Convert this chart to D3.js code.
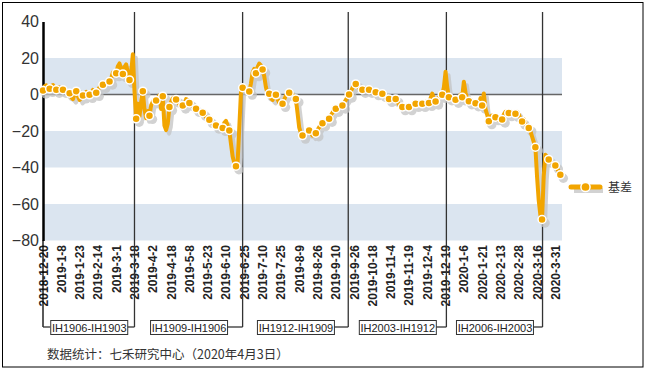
<!DOCTYPE html>
<html>
<head>
<meta charset="utf-8">
<script src="https://cdn.jsdelivr.net/npm/d3@7/dist/d3.min.js"></script>
<style>
  body { margin: 0; background: #fff; }
  svg text { font-family: "Liberation Sans", Arial, sans-serif; }
</style>
</head>
<body>
<div id="chart"></div>
<script>
// Tick labels for the date axis (every 11 trading days)
let dateLabels = ["2018-12-20", "2019-1-8", "2019-1-23", "2019-2-14", "2019-3-1", "2019-3-18",
    "2019-4-2", "2019-4-18", "2019-5-8", "2019-5-23", "2019-6-10", "2019-6-25", "2019-7-10",
    "2019-7-25", "2019-8-9", "2019-8-26", "2019-9-10", "2019-9-26", "2019-10-18", "2019-11-4",
    "2019-11-19", "2019-12-4", "2019-12-19", "2020-1-6", "2020-1-21", "2020-2-13", "2020-2-28",
    "2020-3-16", "2020-3-31"];
let labelStep = 11;

// Daily basis values (one per trading day)
let basis = [
    2.2, 4.5, 5.0, 4.0,   3.1, 4.8, 5.2, 3.5,   2.6, 4.0, 3.8, 3.0,   2.6, 2.0, 1.5, 1.0,
    0.7, -1.5, -2.5, 0.5,   1.8, -1.0, -3.0, -2.0,   -0.5, 0.5, 1.5, 0.5,   -0.2, 1.0, 2.5, 1.5,
    0.9, 2.5, 4.0, 4.5,   5.3, 6.0, 7.0, 6.5,   7.1, 9.0, 12.0, 11.5,   11.7, 15.5, 17.0, 14.0,
    11.3, 15.0, 16.5, 12.0,   8.0, 12.0, 22.0, 2.0,   -13.3, -5.0, -12.0, -4.0,   1.8, -8.0, -13.0, -9.0,
    -11.7, -6.0, -4.0, -2.5,   -3.3, -1.5, -0.5, -8.0,   -0.9, -17.0, -19.5, -16.0,   -6.9, -4.0, -2.0, -1.5,
    -2.7, -4.0, -5.5, -5.5,   -6.0, -5.0, -2.5, -3.0,   -4.6, -5.5, -6.5, -7.0,   -7.8, -8.5, -9.0, -9.5,
    -10.0, -11.0, -12.5, -13.0,   -13.9, -15.0, -16.0, -16.5,   -17.0, -16.5, -17.5, -17.5,   -18.3, -15.5, -14.5, -17.0,
    -19.7, -27.0, -34.0, -37.5,   -39.3, -37.0, -18.0, 1.0,   3.7, 4.5, 3.0, 2.0,   1.6, 6.0, 12.0, 14.0,
    11.7, 15.0, 17.0, 16.0,   13.7, 10.0, 4.0, 0.5,   0.4, -2.0, -3.0, -1.0,   -0.2, -2.5, -4.5, -5.5,
    -5.1, -3.0, -0.5, 0.5,   0.9, 1.0, 0.0, -1.5,   -2.4, -10.0, -18.0, -21.0,   -22.5, -22.0, -21.0, -20.0,
    -19.7, -21.0, -22.5, -22.0,   -21.2, -19.5, -18.0, -16.5,   -15.7, -15.0, -14.5, -14.0,   -13.3, -11.5, -10.0, -8.5,
    -7.8, -7.0, -6.5, -6.0,   -6.0, -4.5, -3.0, -1.5,   0.0, 1.5, 3.5, 5.0,   5.8, 5.0, 3.5, 3.0,
    2.6, 3.0, 3.5, 3.0,   2.6, 2.0, 1.5, 1.5,   1.3, 1.0, 0.5, 0.5,   0.4, -0.5, -1.5, -2.0,
    -2.4, -2.0, -2.5, -2.0,   -2.4, -4.0, -5.5, -6.5,   -6.9, -6.5, -7.0, -7.0,   -6.9, -6.0, -5.5, -5.5,
    -5.1, -4.5, -5.0, -5.0,   -5.1, -4.5, -4.0, -4.5,   -4.6, -2.0, 0.5, -2.5,   -3.8, -2.5, -1.5, -0.5,
    -0.2, 4.0, 12.5, 4.0,   -1.5, -1.0, -1.5, -2.0,   -2.9, -2.0, -1.5, 0.0,   -1.5, 7.0, 1.0, -2.5,
    -3.7, -3.0, -3.5, -4.0,   -4.8, -5.0, -5.5, -2.0,   -6.0, 0.5, -8.0, -11.0,   -14.6, -12.0, -11.5, -12.0,
    -12.4, -13.5, -14.0, -13.0,   -13.7, -11.0, -9.5, -10.0,   -10.2, -9.5, -10.0, -10.5,   -10.6, -9.5, -11.0, -13.0,
    -14.8, -13.5, -16.0, -17.5,   -18.3, -20.0, -23.0, -26.0,   -28.9, -45.0, -58.0, -66.0,   -68.5, -45.0, -33.0, -34.0,
    -35.6, -36.5, -37.5, -38.0,   -38.9, -40.5, -42.0, -44.0
];

// Contract roll points (day index) and the spread names between them
let rollIndex = [55, 120, 183.5, 242.5, 300.3];
let spreadNames = ["IH1906-IH1903", "IH1909-IH1906", "IH1912-IH1909", "IH2003-IH1912", "IH2006-IH2003"];

let yTicks = [40, 20, 0, -20, -40, -60, -80];
let seriesName = "基差";
let sourceNote = "数据统计：七禾研究中心（2020年4月3日）";

// Layout
let svgWidth = 646, svgHeight = 370;
let plot = { left: 43, right: 562, top: 21.5, bottom: 240.5 };
let orange = "#f2a500";
let band = "#dbe5f0";

let svg = d3.select("#chart").append("svg")
    .attr("width", svgWidth)
    .attr("height", svgHeight);

// outer frame
svg.append("rect")
    .attr("x", 2.5).attr("y", 2.5)
    .attr("width", 640.5).attr("height", 364.5)
    .attr("fill", "none").attr("stroke", "#000").attr("stroke-width", 1);

let xScale = d3.scaleLinear().domain([0, 312]).range([plot.left, plot.right]);
let yScale = d3.scaleLinear().domain([-80, 40]).range([plot.bottom, plot.top]);

// alternating bands
let bandPairs = [[20, 0], [-20, -40], [-60, -80]];
svg.append("g").selectAll("rect")
    .data(bandPairs)
    .enter().append("rect")
    .attr("x", plot.left)
    .attr("y", d => yScale(d[0]))
    .attr("width", plot.right - plot.left)
    .attr("height", d => yScale(d[1]) - yScale(d[0]))
    .attr("fill", band);

// zero line
svg.append("line")
    .attr("x1", plot.left).attr("x2", plot.right)
    .attr("y1", yScale(0)).attr("y2", yScale(0))
    .attr("stroke", "#666").attr("stroke-width", 1.5);

// y axis
let yAxis = d3.axisLeft(yScale).tickValues(yTicks).tickSize(0).tickPadding(4);
let yG = svg.append("g")
    .attr("transform", `translate(${plot.left}, 0)`)
    .call(yAxis);
yG.select(".domain").attr("stroke", "#000").attr("stroke-width", 2.5);
yG.selectAll("text").attr("font-size", 16).attr("fill", "#333")
    .attr("font-family", "Liberation Sans, Arial, sans-serif");

// x labels (rotated)
let xG = svg.append("g");
xG.selectAll("text")
    .data(dateLabels)
    .enter().append("text")
    .attr("transform", (d, i) => `translate(${xScale(i * labelStep) + 4.5}, 245) rotate(-90)`)
    .attr("text-anchor", "end")
    .attr("font-size", 12)
    .attr("font-weight", "bold")
    .attr("fill", "#222")
    .text(d => d);

// roll dividers + bracket boxes
let boxY = 320, boxH = 14, boxW = 77, linkY = 327;
let rollX = rollIndex.map(d => xScale(d));
let divG = svg.append("g");
divG.selectAll("line.div")
    .data(rollX)
    .enter().append("line")
    .attr("class", "div")
    .attr("x1", d => d).attr("x2", d => d)
    .attr("y1", 12).attr("y2", linkY)
    .attr("stroke", "#333").attr("stroke-width", 1.3);
// left bracket leg from the axis
divG.append("line")
    .attr("x1", plot.left).attr("x2", plot.left)
    .attr("y1", plot.bottom).attr("y2", linkY)
    .attr("stroke", "#000").attr("stroke-width", 1.3);

let boxes = spreadNames.map((name, i) => {
    let prev = i === 0 ? plot.left : rollX[i - 1];
    let cx = (prev + rollX[i]) / 2;
    return { name: name, cx: cx, right: rollX[i] };
});
divG.selectAll("line.link")
    .data(boxes)
    .enter().append("line")
    .attr("class", "link")
    .attr("x1", d => d.cx + boxW / 2).attr("x2", d => d.right)
    .attr("y1", linkY).attr("y2", linkY)
    .attr("stroke", "#333").attr("stroke-width", 1.3);
divG.append("line")
    .attr("x1", plot.left).attr("x2", boxes[0].cx - boxW / 2)
    .attr("y1", linkY).attr("y2", linkY)
    .attr("stroke", "#333").attr("stroke-width", 1.3);
divG.selectAll("rect")
    .data(boxes)
    .enter().append("rect")
    .attr("x", d => d.cx - boxW / 2 + 0.5).attr("y", boxY + 0.5)
    .attr("width", boxW).attr("height", boxH)
    .attr("fill", "#fff").attr("stroke", "#333").attr("stroke-width", 1);
divG.selectAll("text")
    .data(boxes)
    .enter().append("text")
    .attr("x", d => d.cx + 0.5).attr("y", boxY + 11.5)
    .attr("text-anchor", "middle")
    .attr("font-size", 11)
    .attr("fill", "#222")
    .text(d => d.name);

// series
let lastIdx = basis.length - 1;
let markerData = basis.map((v, i) => ({ i: i, v: v }))
    .filter(d => d.i % 4 === 0 || d.i === lastIdx);
let line = d3.line().x((d, i) => xScale(i)).y(d => yScale(d));

let shadow = svg.append("g").attr("transform", "translate(3, 3.5)").attr("opacity", 0.75);
shadow.append("path").datum(basis)
    .attr("d", line).attr("fill", "none")
    .attr("stroke", "#c4c4c4").attr("stroke-width", 4).attr("stroke-linejoin", "round");
shadow.selectAll("circle").data(markerData).enter().append("circle")
    .attr("cx", d => xScale(d.i)).attr("cy", d => yScale(d.v))
    .attr("r", 4.7).attr("fill", "#c4c4c4");

svg.append("path").datum(basis)
    .attr("d", line).attr("fill", "none")
    .attr("stroke", orange).attr("stroke-width", 4).attr("stroke-linejoin", "round");

svg.append("g").selectAll("circle")
    .data(markerData)
    .enter().append("circle")
    .attr("cx", d => xScale(d.i)).attr("cy", d => yScale(d.v))
    .attr("r", 4)
    .attr("fill", orange)
    .attr("stroke", "#fff").attr("stroke-width", 1.5);

// legend
let lg = svg.append("g").attr("transform", "translate(571, 187)");
lg.append("line").attr("x1", 3).attr("x2", 32).attr("y1", 3.5).attr("y2", 3.5)
    .attr("stroke", "#c4c4c4").attr("stroke-width", 5).attr("opacity", 0.75);
lg.append("line").attr("x1", 0).attr("x2", 29).attr("y1", 0).attr("y2", 0)
    .attr("stroke", orange).attr("stroke-width", 5).attr("stroke-linecap", "round");
lg.append("circle").attr("cx", 14.5).attr("cy", 0).attr("r", 4.6)
    .attr("fill", orange).attr("stroke", "#fff").attr("stroke-width", 1.5);
lg.append("text").attr("x", 37).attr("y", 4.5)
    .attr("font-size", 12).attr("fill", "#333")
    .style("font-family", "'Noto Sans CJK SC', sans-serif")
    .text(seriesName);

// source note
svg.append("text")
    .attr("x", 47).attr("y", 359)
    .attr("font-size", 12.5).attr("fill", "#333")
    .style("font-family", "'Noto Sans CJK SC', sans-serif")
    .text(sourceNote);
</script>
</body>
</html>
